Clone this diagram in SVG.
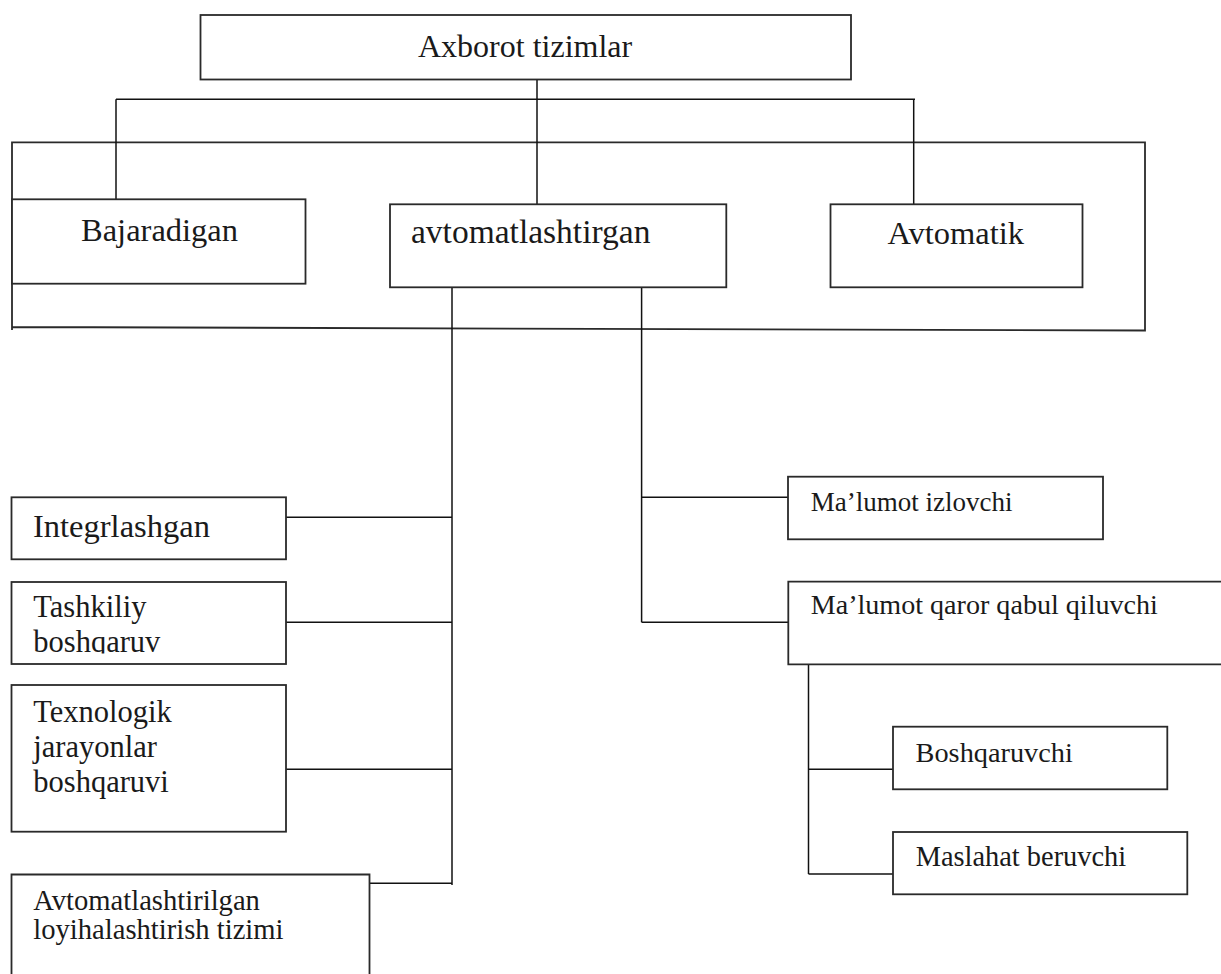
<svg xmlns="http://www.w3.org/2000/svg" width="1221" height="974" viewBox="0 0 1221 974">
<style>
.box{fill:#fff;stroke:#2a2a2a;stroke-width:1.8}
.open{fill:none;stroke:#2a2a2a;stroke-width:1.8}
.ln{fill:none;stroke:#111;stroke-width:1.5}
.t{font-family:"Liberation Serif","Times New Roman",serif;fill:#1a1a1a}
</style>
<defs>
<clipPath id="clipTash"><rect x="11" y="582" width="275" height="71.5"/></clipPath>
</defs>
<rect width="1221" height="974" fill="#fff"/>
<g id="connectors">
<path class="open" d="M12,330 V142.3 H1145 V330.5 L12,327"/>
<path class="ln" d="M537,79.3 V204.3"/>
<path class="ln" d="M116,99.3 H915"/>
<path class="ln" d="M116,99.3 V199.3"/>
<path class="ln" d="M913.7,99.3 V204.3"/>
<path class="ln" d="M452,287.3 V885"/>
<path class="ln" d="M286,517.3 H452"/>
<path class="ln" d="M286,622.3 H452"/>
<path class="ln" d="M286,769.3 H452"/>
<path class="ln" d="M369.5,883.3 H452"/>
<path class="ln" d="M641.6,287.3 V622.3"/>
<path class="ln" d="M641.6,497.3 H788"/>
<path class="ln" d="M641.6,622.3 H788"/>
<path class="ln" d="M808.5,664.3 V874"/>
<path class="ln" d="M808.5,769.3 H893"/>
<path class="ln" d="M808.5,874 H893"/>
</g>
<g id="node-axborot">
<rect class="box" x="200.5" y="15" width="650.5" height="64.5"/>
<text class="t" x="418" y="56.7" font-size="32">Axborot tizimlar</text>
</g>
<g id="node-bajaradigan">
<rect class="box" x="12" y="199.3" width="293.5" height="84.4"/>
<text class="t" x="81" y="240.7" font-size="32.5">Bajaradigan</text>
</g>
<g id="node-avtomatlashtirgan">
<rect class="box" x="390" y="204.3" width="336.3" height="83"/>
<text class="t" x="411" y="243.3" font-size="33.5">avtomatlashtirgan</text>
</g>
<g id="node-avtomatik">
<rect class="box" x="830.5" y="204.3" width="252" height="83"/>
<text class="t" x="887.5" y="244.3" font-size="32.5">Avtomatik</text>
</g>
<g id="node-integrlashgan">
<rect class="box" x="11.5" y="497.3" width="274.5" height="62"/>
<text class="t" x="33" y="536.7" font-size="32.5">Integrlashgan</text>
</g>
<g id="node-tashkiliy">
<rect class="box" x="11.5" y="582" width="274.5" height="82"/>
<g clip-path="url(#clipTash)">
<text class="t" x="33.3" y="616.7" font-size="30.5">Tashkiliy</text>
<text class="t" x="33.3" y="651.7" font-size="30.5">boshqaruv</text>
</g>
</g>
<g id="node-texnologik">
<rect class="box" x="11.5" y="685" width="274.5" height="146.7"/>
<text class="t" x="33.3" y="721.7" font-size="30.5">Texnologik</text>
<text class="t" x="33.3" y="756.7" font-size="30.5">jarayonlar</text>
<text class="t" x="33.3" y="791.7" font-size="30.5">boshqaruvi</text>
</g>
<g id="node-alt">
<path class="open" d="M11.5,975 V874.5 H369.5 V975"/>
<text class="t" x="33.3" y="910" font-size="28.6">Avtomatlashtirilgan</text>
<text class="t" x="33.3" y="939.3" font-size="28.6">loyihalashtirish tizimi</text>
</g>
<g id="node-izlovchi">
<rect class="box" x="788" y="476.7" width="315" height="62.6"/>
<text class="t" x="810.7" y="510.7" font-size="27">Ma’lumot izlovchi</text>
</g>
<g id="node-qaror">
<path class="open" d="M1222,581.7 H788.3 V664.3 H1222"/>
<text class="t" x="810.7" y="614.3" font-size="28.1">Ma’lumot qaror qabul qiluvchi</text>
</g>
<g id="node-boshqaruvchi">
<rect class="box" x="893" y="726.7" width="274.3" height="62.6"/>
<text class="t" x="915.6" y="761.7" font-size="28.3">Boshqaruvchi</text>
</g>
<g id="node-maslahat">
<rect class="box" x="893" y="832" width="294.3" height="62.3"/>
<text class="t" x="915.7" y="866" font-size="28.4">Maslahat beruvchi</text>
</g>
</svg>
